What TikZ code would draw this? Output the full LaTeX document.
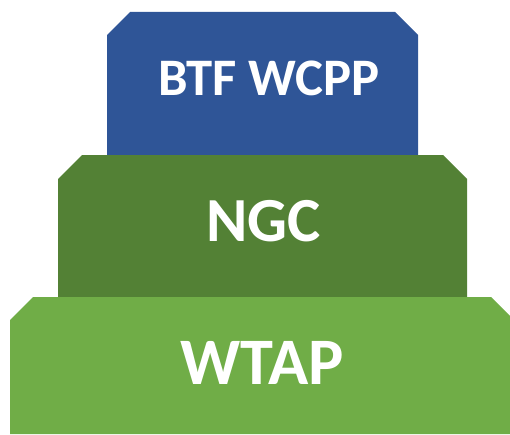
\documentclass[tikz,border=0pt]{standalone}
\usepackage{fontspec}
\setmainfont{Carlito}
\definecolor{topblue}{HTML}{2F5597}
\definecolor{midgreen}{HTML}{538135}
\definecolor{lowgreen}{HTML}{70AD47}
\tikzset{
    label/.style={text=white, font=\bfseries, inner sep=0pt}
}
\begin{document}
\begin{tikzpicture}
    \useasboundingbox (0,0) rectangle (10.2cm,8.68cm);
    \begin{scope}
        \clip (0,0) rectangle (10.2cm,8.68cm);
        \fill[topblue] (2.14cm,5.58cm) -- (2.14cm,7.98cm) -- (2.60cm,8.44cm) -- (7.90cm,8.44cm) -- (8.36cm,7.98cm) -- (8.36cm,5.58cm) -- cycle;
        \fill[midgreen] (1.16cm,2.72cm) -- (1.16cm,5.10cm) -- (1.64cm,5.58cm) -- (8.86cm,5.58cm) -- (9.34cm,5.10cm) -- (9.34cm,2.72cm) -- cycle;
        \fill[lowgreen] (0.20cm,0) -- (0.20cm,2.28cm) -- (0.66cm,2.74cm) -- (9.82cm,2.74cm) -- (10.28cm,2.28cm) -- (10.28cm,0) -- cycle;
    \end{scope}
    \node[label, font=\bfseries\fontsize{30}{32}\selectfont] (btf) at (5.38cm,7.12cm) {BTF WCPP};
    \node[label, font=\bfseries\fontsize{35.7}{38}\selectfont] (ngc) at (5.27cm,4.26cm) {NGC};
    \node[label, font=\bfseries\fontsize{37.8}{40}\selectfont] (wtap) at (5.25cm,1.42cm) {WTAP};
\end{tikzpicture}
\end{document}
